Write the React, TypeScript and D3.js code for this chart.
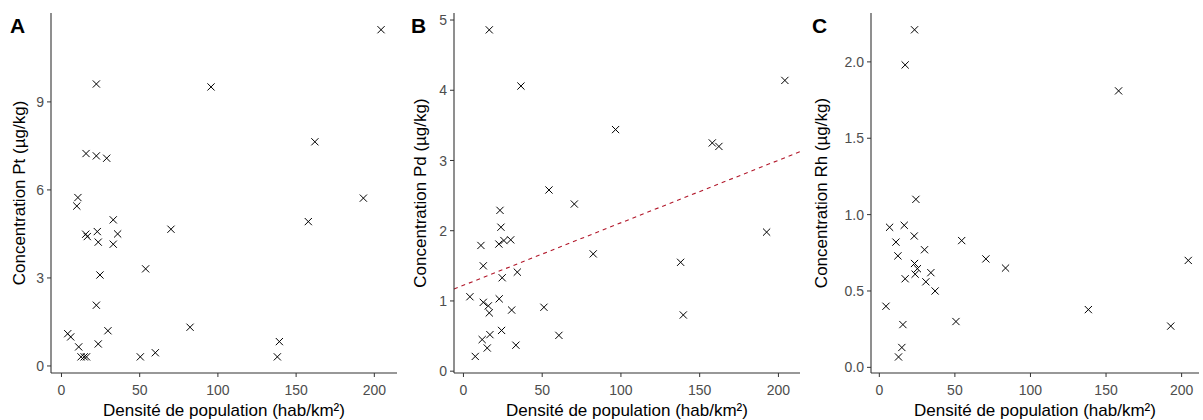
import React from 'react';
import * as d3 from 'd3';

// Panel A: Pt
const densityA = [204.3, 95.6, 22.3, 162, 15.7, 22.3, 28.9, 10.5, 9.8, 33.1, 15.5, 16.5, 22.9, 23.5, 35.9, 33.1, 70, 53.8, 24.6, 22.3, 29.7, 82.2, 4.0, 5.9, 11, 23.5, 12.5, 14.5, 16, 50.4, 60, 157.8, 139.3, 138, 193];
const ptValues = [11.46, 9.51, 9.61, 7.64, 7.24, 7.16, 7.08, 5.74, 5.45, 4.98, 4.49, 4.41, 4.58, 4.22, 4.5, 4.15, 4.66, 3.31, 3.1, 2.07, 1.2, 1.32, 1.1, 0.99, 0.65, 0.75, 0.31, 0.31, 0.31, 0.31, 0.45, 4.92, 0.83, 0.31, 5.72];

// Panel B: Pd
const densityB = [16.4, 36.5, 54.3, 70.4, 96.6, 158, 162.2, 204.1, 23.2, 23.8, 11.1, 22.5, 25.7, 30, 12.6, 24.6, 34.2, 4.1, 12.6, 15.8, 16.4, 22.7, 30.6, 51.1, 60.6, 24.2, 16.8, 11.9, 15.1, 33.3, 7.5, 82.4, 137.9, 139.6, 192.5];
const pdValues = [4.86, 4.06, 2.58, 2.38, 3.44, 3.25, 3.2, 4.14, 2.29, 2.05, 1.79, 1.81, 1.86, 1.87, 1.5, 1.33, 1.41, 1.06, 0.98, 0.93, 0.83, 1.03, 0.87, 0.91, 0.51, 0.58, 0.52, 0.45, 0.33, 0.37, 0.21, 1.67, 1.55, 0.8, 1.98];
const pdFitIntercept = 1.223;
const pdFitSlope = 0.0089;

// Panel C: Rh
const densityC = [23.3, 17.1, 24.2, 158.3, 6.8, 16.5, 11, 23.1, 12.3, 29.9, 23.3, 25.2, 23.7, 34.1, 17.1, 30.8, 36.9, 54.5, 70.5, 4.4, 15.6, 50.7, 14.9, 12.7, 83.5, 138.3, 192.8, 204.4];
const rhValues = [2.21, 1.98, 1.1, 1.81, 0.917, 0.93, 0.82, 0.86, 0.73, 0.77, 0.68, 0.646, 0.61, 0.62, 0.58, 0.56, 0.5, 0.83, 0.71, 0.4, 0.28, 0.3, 0.13, 0.068, 0.65, 0.378, 0.27, 0.7];

const xTicks = [0, 50, 100, 150, 200];
const yTicksA = [0, 3, 6, 9];
const yTicksB = [0, 1, 2, 3, 4, 5];
const yTicksC = [0, 0.5, 1, 1.5, 2];

const panelLabels = ['A', 'B', 'C'];
const yTitles = ['Concentration Pt (µg/kg)', 'Concentration Pd (µg/kg)', 'Concentration Rh (µg/kg)'];
const xTitle = 'Densité de population (hab/km²)';

const W = 1203;
const H = 420;
const FONT = '"Liberation Sans", Arial, sans-serif';

type PanelDef = {
  label: string;
  yTitle: string;
  xs: number[];
  ys: number[];
  yTicks: number[];
  yFmt: (v: number) => string;
  left: number;
  right: number;
  plotLeft: number;
  xDomain: [number, number];
  yDomain: [number, number];
  fit?: { a: number; b: number };
};

const panels: PanelDef[] = [
  {
    label: panelLabels[0], yTitle: yTitles[0], xs: densityA, ys: ptValues, yTicks: yTicksA,
    yFmt: d3.format('d'), left: 51, right: 397, plotLeft: 0,
    xDomain: [-6.7, 214.5], yDomain: [-0.24, 12.03],
  },
  {
    label: panelLabels[1], yTitle: yTitles[1], xs: densityB, ys: pdValues, yTicks: yTicksB,
    yFmt: d3.format('d'), left: 454, right: 800, plotLeft: 401,
    xDomain: [-6.0, 213.7], yDomain: [-0.026, 5.1],
    fit: { a: pdFitIntercept, b: pdFitSlope },
  },
  {
    label: panelLabels[2], yTitle: yTitles[2], xs: densityC, ys: rhValues, yTicks: yTicksC,
    yFmt: d3.format('.1f'), left: 871, right: 1199, plotLeft: 802,
    xDomain: [-5.5, 211.5], yDomain: [-0.037, 2.32],
  },
];

const TOP = 13;
const BOTTOM = 373;

function Panel({ p }: { p: PanelDef }) {
  const x = d3.scaleLinear().domain(p.xDomain).range([p.left, p.right]);
  const y = d3.scaleLinear().domain(p.yDomain).range([BOTTOM, TOP]);
  const axisColor = '#333333';
  const tickColor = '#4D4D4D';
  const m = 3.6;
  return (
    <g>
      {/* regression line */}
      {p.fit && (
        <line
          x1={x(p.xDomain[0])}
          y1={y(p.fit.a + p.fit.b * p.xDomain[0])}
          x2={x(p.xDomain[1])}
          y2={y(p.fit.a + p.fit.b * p.xDomain[1])}
          stroke="#B2182B"
          strokeWidth={1.1}
          strokeDasharray="4,4"
        />
      )}
      {/* points */}
      {p.xs.map((xv, i) => (
        <path
          key={i}
          d={`M${x(xv) - m},${y(p.ys[i]) - m}L${x(xv) + m},${y(p.ys[i]) + m}M${x(xv) - m},${y(p.ys[i]) + m}L${x(xv) + m},${y(p.ys[i]) - m}`}
          stroke="#000"
          strokeWidth={1}
          fill="none"
        />
      ))}
      {/* axes */}
      <line x1={p.left} y1={TOP} x2={p.left} y2={BOTTOM} stroke={axisColor} strokeWidth={1.1} />
      <line x1={p.left} y1={BOTTOM} x2={p.right} y2={BOTTOM} stroke={axisColor} strokeWidth={1.1} />
      {p.yTicks.map((t) => (
        <g key={'y' + t}>
          <line x1={p.left - 4} x2={p.left} y1={y(t)} y2={y(t)} stroke={axisColor} strokeWidth={1} />
          <text x={p.left - 7} y={y(t)} dy="0.36em" textAnchor="end" fontSize={14} fill={tickColor} fontFamily={FONT}>
            {p.yFmt(t)}
          </text>
        </g>
      ))}
      {xTicks.map((t) => (
        <g key={'x' + t}>
          <line x1={x(t)} x2={x(t)} y1={BOTTOM} y2={BOTTOM + 4} stroke={axisColor} strokeWidth={1} />
          <text x={x(t)} y={395} textAnchor="middle" fontSize={14} fill={tickColor} fontFamily={FONT}>
            {t}
          </text>
        </g>
      ))}
      {/* titles */}
      <text x={(p.left + p.right) / 2} y={416} textAnchor="middle" fontSize={17} fill="#000" fontFamily={FONT}>
        {xTitle}
      </text>
      <text
        transform={`translate(${p.plotLeft + 25},${(TOP + BOTTOM) / 2}) rotate(-90)`}
        textAnchor="middle"
        fontSize={17}
        fill="#000"
        fontFamily={FONT}
      >
        {p.yTitle}
      </text>
      <text x={p.plotLeft + 10} y={33} fontSize={21} fontWeight="bold" fill="#000" fontFamily={FONT}>
        {p.label}
      </text>
    </g>
  );
}

export default function App() {
  return (
    <svg
      width={W}
      height={H}
      viewBox={`0 0 ${W} ${H}`}
      style={{ position: 'absolute', left: 0, top: 0, background: '#fff' }}
    >
      <rect width={W} height={H} fill="#fff" />
      {panels.map((p) => (
        <Panel key={p.label} p={p} />
      ))}
    </svg>
  );
}
